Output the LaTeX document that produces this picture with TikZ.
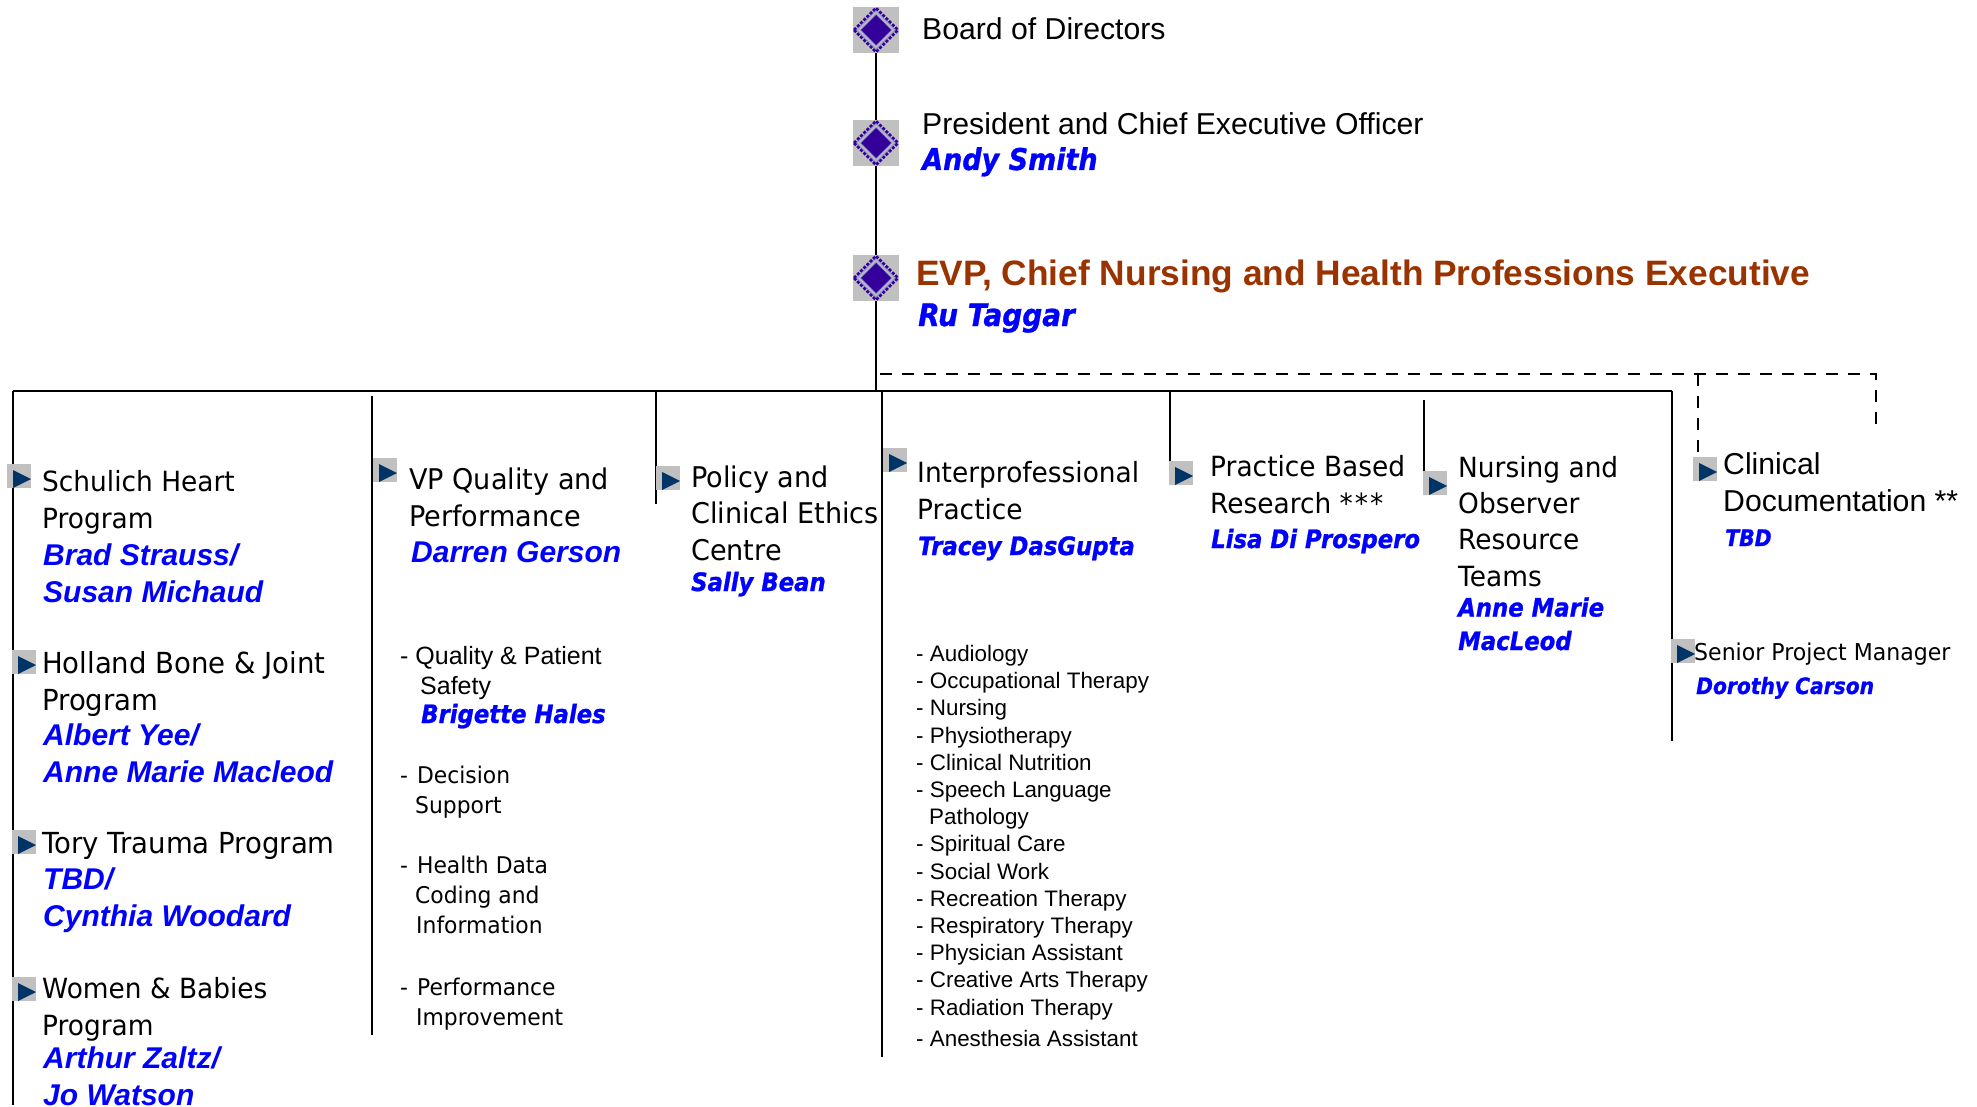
\documentclass[tikz,border=0pt]{standalone}
\usepackage{fontspec}
\setmainfont{Liberation Sans}
\newfontfamily\tahomafont[FakeStretch=0.95]{DejaVu Sans}
\newfontfamily\namefont[FakeStretch=0.9,FakeBold=1]{DejaVu Sans}
\usetikzlibrary{positioning, calc, backgrounds}
\definecolor{NameBlue}{RGB}{0,0,255}
\definecolor{TitleBrown}{RGB}{153,51,0}
\definecolor{MarkGrey}{RGB}{192,192,192}
\definecolor{MarkNavy}{RGB}{0,51,102}
\definecolor{MarkPurple}{RGB}{51,0,153}
\definecolor{MarkLilac}{RGB}{153,153,204}
\tikzset{
	Line/.style = {line width = 2pt, black},
	DashLine/.style = {line width = 2pt, black, dash pattern = on 12pt off 10pt},
	topmark/.style = {rectangle, fill = MarkGrey, minimum size = 46pt, inner sep = 0pt, path picture = {
		\draw[MarkLilac, line width = 1.5pt] (path picture bounding box.center) ++(-19.5,0) -- ++(19.5,19.5) -- ++(19.5,-19.5) -- ++(-19.5,-19.5) -- cycle;
		\draw[MarkPurple, line width = 2.5pt, dash pattern = on 3pt off 1.5pt] (path picture bounding box.center) ++(-22,0) -- ++(22,22) -- ++(22,-22) -- ++(-22,-22) -- cycle;
		\fill[MarkLilac] (path picture bounding box.center) ++(-16.5,0) -- ++(16.5,16.5) -- ++(16.5,-16.5) -- ++(-16.5,-16.5) -- cycle;
		\fill[MarkPurple] (path picture bounding box.center) ++(-15,0) -- ++(15,15) -- ++(15,-15) -- ++(-15,-15) -- cycle;
	}},
	bullet/.style = {rectangle, fill = MarkGrey, minimum size = 24pt, inner sep = 0pt, path picture = {
		\fill[MarkNavy] (path picture bounding box.south east) ++(-18,0) -- ++(18,-9) -- ++(-18,-9) -- cycle;
	}},
	blocktext/.style = {anchor = base west, inner sep = 0pt, align = left},
	titletext/.style = {blocktext, font = \fontsize{30.2}{37}\selectfont},
	chieftext/.style = {blocktext, font = \fontsize{35.3}{40}\selectfont\bfseries, text = TitleBrown},
	headtext/.style = {blocktext, font = \tahomafont\fontsize{28.5}{36.3}\selectfont},
	headnarrow/.style = {blocktext, font = \tahomafont\fontsize{27.8}{36.3}\selectfont},
	headwide/.style = {blocktext, font = \tahomafont\fontsize{29}{36.3}\selectfont},
	itemtext/.style = {blocktext, font = \tahomafont\fontsize{23}{30}\selectfont},
	smalltext/.style = {blocktext, font = \fontsize{22.4}{27.2}\selectfont},
	nametext/.style = {blocktext, font = \bfseries\itshape\fontsize{30}{36.5}\selectfont, text = NameBlue},
	tnametext/.style = {blocktext, font = \namefont\bfseries\itshape\fontsize{30}{36}\selectfont, text = NameBlue},
	snametext/.style = {blocktext, font = \namefont\bfseries\itshape\fontsize{25.3}{33.5}\selectfont, text = NameBlue},
}
\begin{document}
\begin{tikzpicture}[x = 1pt, y = -1pt]
	\useasboundingbox (0,0) rectangle (1977,1107);

	% connector ends
	\coordinate(BusL) at (13,391);
	\coordinate(BusR) at (1672,391);
	\coordinate(BusStem) at (876,391);
	\coordinate(HeartEnd) at (13,1105);
	\coordinate(QualTop) at (372,396);
	\coordinate(QualEnd) at (372,1035);
	\coordinate(PolicyTop) at (656,391);
	\coordinate(PolicyEnd) at (656,504);
	\coordinate(InterTop) at (882,391);
	\coordinate(InterEnd) at (882,1057);
	\coordinate(ResearchTop) at (1170,391);
	\coordinate(ResearchEnd) at (1170,483);
	\coordinate(NursingTop) at (1424,400);
	\coordinate(NursingEnd) at (1424,492);
	\coordinate(ManagerEnd) at (1672,741);
	\coordinate(DashL) at (880,374);
	\coordinate(DashM) at (1698,374);
	\coordinate(DashR) at (1876,374);
	\coordinate(DashEnd) at (1876,425);
	\coordinate(DashDown) at (1698,479);

	% the three top marks
	\node[topmark](Board) at (876,30){};
	\node[topmark](Pres) at (876,143){};
	\node[topmark](Evp) at (876,278){};

	% bullets
	\node[bullet](HeartMark) at (19,476){};
	\node[bullet](BoneMark) at (24,662){};
	\node[bullet](TraumaMark) at (24,842){};
	\node[bullet](BabyMark) at (24,989){};
	\node[bullet](QualMark) at (385,470){};
	\node[bullet](PolicyMark) at (668,478){};
	\node[bullet](InterMark) at (895,460){};
	\node[bullet](ResearchMark) at (1181,473){};
	\node[bullet](NursingMark) at (1435,483){};
	\node[bullet](ClinicalMark) at (1705,469){};
	\node[bullet](ManagerMark) at (1683,651){};

	\begin{pgfonlayer}{background}
		\draw[Line](Board)--(Pres);
		\draw[Line](Pres)--(Evp);
		\draw[Line](Evp)--(BusStem);
		\draw[Line](BusL)--(BusR);
		\draw[Line](BusL)--(HeartEnd);
		\draw[Line](QualTop)--(QualEnd);
		\draw[Line](PolicyTop)--(PolicyEnd);
		\draw[Line](InterTop)--(InterEnd);
		\draw[Line](ResearchTop)--(ResearchEnd);
		\draw[Line](NursingTop)--(NursingEnd);
		\draw[Line](BusR)--(ManagerEnd);
		\draw[DashLine](DashL)--(DashR)--(DashEnd);
		\draw[DashLine](DashM)--(DashDown);
	\end{pgfonlayer}

	% top
	\node[titletext](BoardText) at (922,40){Board of Directors};
	\node[titletext](PresText) at (922,135){President and Chief Executive Officer};
	\node[tnametext](PresName) at (922,170){Andy Smith};
	\node[chieftext](EvpText) at (916,285){EVP, Chief Nursing and Health Professions Executive};
	\node[tnametext, font = \namefont\bfseries\itshape\fontsize{31}{36}\selectfont](EvpName) at (918,326){Ru Taggar};

	% first column (anchors sit on the last line)
	\node[headnarrow](HeartText) at (42,528){Schulich Heart\\Program};
	\node[nametext](HeartName) at (43,602){Brad Strauss/\\Susan Michaud};
	\node[headwide](BoneText) at (42,710){Holland Bone \& Joint\\Program};
	\node[nametext](BoneName) at (43,782){Albert Yee/\\Anne Marie Macleod};
	\node[headwide](TraumaText) at (42,853){Tory Trauma Program};
	\node[nametext](TraumaName) at (43,926){TBD/\\Cynthia Woodard};
	\node[headnarrow](BabyText) at (42,1035){Women \& Babies\\Program};
	\node[nametext](BabyName) at (43,1105){Arthur Zaltz/\\Jo Watson};

	% second column
	\node[headtext](QualText) at (409,526){VP Quality and\\Performance};
	\node[nametext](QualName) at (411,562){Darren Gerson};
	\node[smalltext, font = \fontsize{25}{30}\selectfont](PatientText) at (400,694){- Quality \& Patient\\\hspace*{20pt}Safety};
	\node[snametext](PatientName) at (421,723){Brigette Hales};
	\node[itemtext](DecisionText) at (400,813){-\hspace{9pt}Decision\\\hspace*{15pt}Support};
	\node[itemtext](CodingText) at (400,933){-\hspace{9pt}Health Data\\\hspace*{15pt}Coding and\\\hspace*{16pt}Information};
	\node[itemtext](ImproveText) at (400,1025){-\hspace{9pt}Performance\\\hspace*{16pt}Improvement};

	% third column
	\node[headtext](PolicyText) at (691,560){Policy and\\Clinical Ethics\\Centre};
	\node[snametext](PolicyName) at (691,591){Sally Bean};

	% fourth column
	\node[headnarrow](InterText) at (917,519){Interprofessional\\Practice};
	\node[snametext](InterName) at (918,555){Tracey DasGupta};
	\node[smalltext](InterList) at (916,1015){- Audiology\\- Occupational Therapy\\- Nursing\\- Physiotherapy\\- Clinical Nutrition\\- Speech Language\\\hspace*{13pt}Pathology\\- Spiritual Care\\- Social Work\\- Recreation Therapy\\- Respiratory Therapy\\- Physician Assistant\\- Creative Arts Therapy\\- Radiation Therapy};
	\node[smalltext](InterLast) at (916,1046){- Anesthesia Assistant};

	% fifth and sixth column
	\node[headnarrow](ResearchText) at (1210,513){Practice Based\\Research *\kern2pt*\kern2pt*};
	\node[snametext](ResearchName) at (1211,548){Lisa Di Prospero};
	\node[headnarrow](NursingText) at (1458,586){Nursing and\\Observer\\Resource\\Teams};
	\node[snametext](NursingName) at (1458,650){Anne Marie\\MacLeod};

	% right side
	\node[titletext](ClinicalText) at (1723,511){Clinical\\Documentation **};
	\node[snametext, font = \namefont\bfseries\itshape\fontsize{22.7}{30}\selectfont](ClinicalName) at (1725,546){TBD};
	\node[itemtext, font = \tahomafont\fontsize{23.2}{30}\selectfont](ManagerText) at (1694,660){Senior Project Manager};
	\node[snametext, font = \namefont\bfseries\itshape\fontsize{22.5}{30}\selectfont](ManagerName) at (1696,694){Dorothy Carson};

\end{tikzpicture}
\end{document}
